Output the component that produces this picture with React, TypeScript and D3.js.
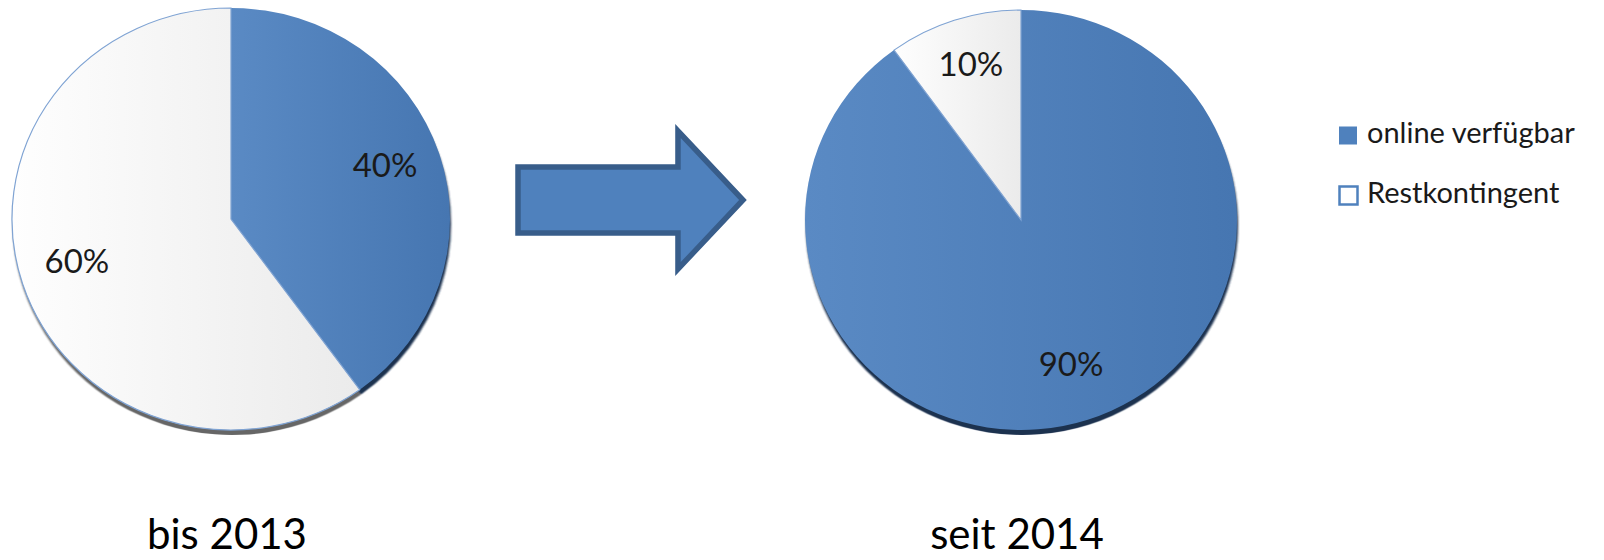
import React, { useEffect, useRef } from 'react';
import * as d3 from 'd3';

const categories = ['online verfügbar', 'Restkontingent'];
const valuesBefore = [40, 60];
const valuesAfter = [90, 10];
const periodLabels = ['bis 2013', 'seit 2014'];

const App: React.FC = () => {
  const ref = useRef<SVGSVGElement>(null);

  useEffect(() => {
    const svg = d3.select(ref.current);
    svg.selectAll('*').remove();

    const width = 1604;
    const height = 560;
    const font = 'Lato, "Open Sans", sans-serif';

    const defs = svg.append('defs');
    const blueGrad = defs.append('linearGradient').attr('id', 'blueGrad')
      .attr('x1', '0%').attr('y1', '0%').attr('x2', '100%').attr('y2', '0%');
    blueGrad.append('stop').attr('offset', '0%').attr('stop-color', '#5a8ac4');
    blueGrad.append('stop').attr('offset', '100%').attr('stop-color', '#4676b1');
    const whiteGrad = defs.append('linearGradient').attr('id', 'whiteGrad')
      .attr('x1', '0%').attr('y1', '0%').attr('x2', '100%').attr('y2', '0%');
    whiteGrad.append('stop').attr('offset', '0%').attr('stop-color', '#fefefe');
    whiteGrad.append('stop').attr('offset', '100%').attr('stop-color', '#ebebeb');
    defs.append('filter').attr('id', 'soft')
      .append('feGaussianBlur').attr('stdDeviation', 0.8);

    const fills = ['url(#blueGrad)', 'url(#whiteGrad)'];
    const shadowFills = ['#1c3150', '#666666'];
    const strokes = ['none', '#7fa3d3'];

    // pie geometry (slightly squashed, like the Office export)
    const pies = [
      { values: valuesBefore, cx: 231, cy: 219, rx: 219, ry: 211 },
      { values: valuesAfter, cx: 1021, cy: 220, rx: 216, ry: 210 },
    ];

    const pie = d3.pie<number>().sort(null).value(d => d);

    pies.forEach((p, i) => {
      const arcs = pie(p.values);
      const arc = d3.arc<d3.PieArcDatum<number>>().innerRadius(0).outerRadius(p.rx);
      const labelArc = d3.arc<d3.PieArcDatum<number>>().innerRadius(162).outerRadius(162);
      const sy = p.ry / p.rx;

      // darker rim underneath
      svg.append('g')
        .attr('transform', `translate(${p.cx + 1},${p.cy + 5}) scale(1,${sy})`)
        .attr('filter', 'url(#soft)')
        .selectAll('path')
        .data(arcs)
        .enter()
        .append('path')
        .attr('d', arc)
        .attr('fill', (_, j) => shadowFills[j]);

      svg.append('g')
        .attr('transform', `translate(${p.cx},${p.cy}) scale(1,${sy})`)
        .selectAll('path')
        .data(arcs)
        .enter()
        .append('path')
        .attr('d', arc)
        .attr('fill', (_, j) => fills[j])
        .attr('stroke', (_, j) => strokes[j])
        .attr('stroke-width', 1.2);

      arcs.forEach(a => {
        const [lx, ly] = labelArc.centroid(a);
        svg.append('text')
          .attr('x', p.cx + lx)
          .attr('y', p.cy + ly * sy - 6)
          .attr('dy', '0.36em')
          .attr('text-anchor', 'middle')
          .attr('font-family', font)
          .attr('font-size', 33)
          .attr('fill', '#1a1a1a')
          .text(`${a.data}%`);
      });

      svg.append('text')
        .attr('x', p.cx - 4)
        .attr('y', 549)
        .attr('text-anchor', 'middle')
        .attr('font-family', font)
        .attr('font-size', 42)
        .attr('fill', '#000')
        .text(periodLabels[i]);
    });

    // arrow between the two pies
    const ax = d3.scaleLinear().domain([0, 1]).range([518, 743]);
    const ay = d3.scaleLinear().domain([0, 1]).range([131, 269]);
    const headBase = 0.711;
    const arrowPts: [number, number][] = [
      [0, 0.261], [headBase, 0.261], [headBase, 0], [1, 0.5],
      [headBase, 1], [headBase, 0.739], [0, 0.739],
    ];
    svg.append('path')
      .attr('d', d3.line<[number, number]>().x(d => ax(d[0])).y(d => ay(d[1])).curve(d3.curveLinearClosed)(arrowPts))
      .attr('fill', '#4f81bd')
      .attr('stroke', '#385d8a')
      .attr('stroke-width', 5.5)
      .attr('stroke-linejoin', 'miter');

    // legend
    const legend = svg.append('g').attr('transform', 'translate(1339, 126)');
    categories.forEach((c, i) => {
      const row = legend.append('g').attr('transform', `translate(0, ${i * 60})`);
      row.append('rect')
        .attr('x', i === 0 ? 0 : 0.5)
        .attr('y', 0.5)
        .attr('width', 18)
        .attr('height', 18)
        .attr('fill', i === 0 ? '#4f81bd' : '#ffffff')
        .attr('stroke', '#4f81bd')
        .attr('stroke-width', i === 0 ? 0 : 2.5);
      row.append('text')
        .attr('x', 28)
        .attr('y', 17)
        .attr('font-family', font)
        .attr('font-size', 29)
        .attr('fill', '#1a1a1a')
        .text(c);
    });

    svg.attr('width', width).attr('height', height);
  }, []);

  return (
    <svg
      ref={ref}
      width={1604}
      height={560}
      style={{ position: 'absolute', left: 0, top: 0, background: '#fff' }}
    />
  );
};

export default App;
